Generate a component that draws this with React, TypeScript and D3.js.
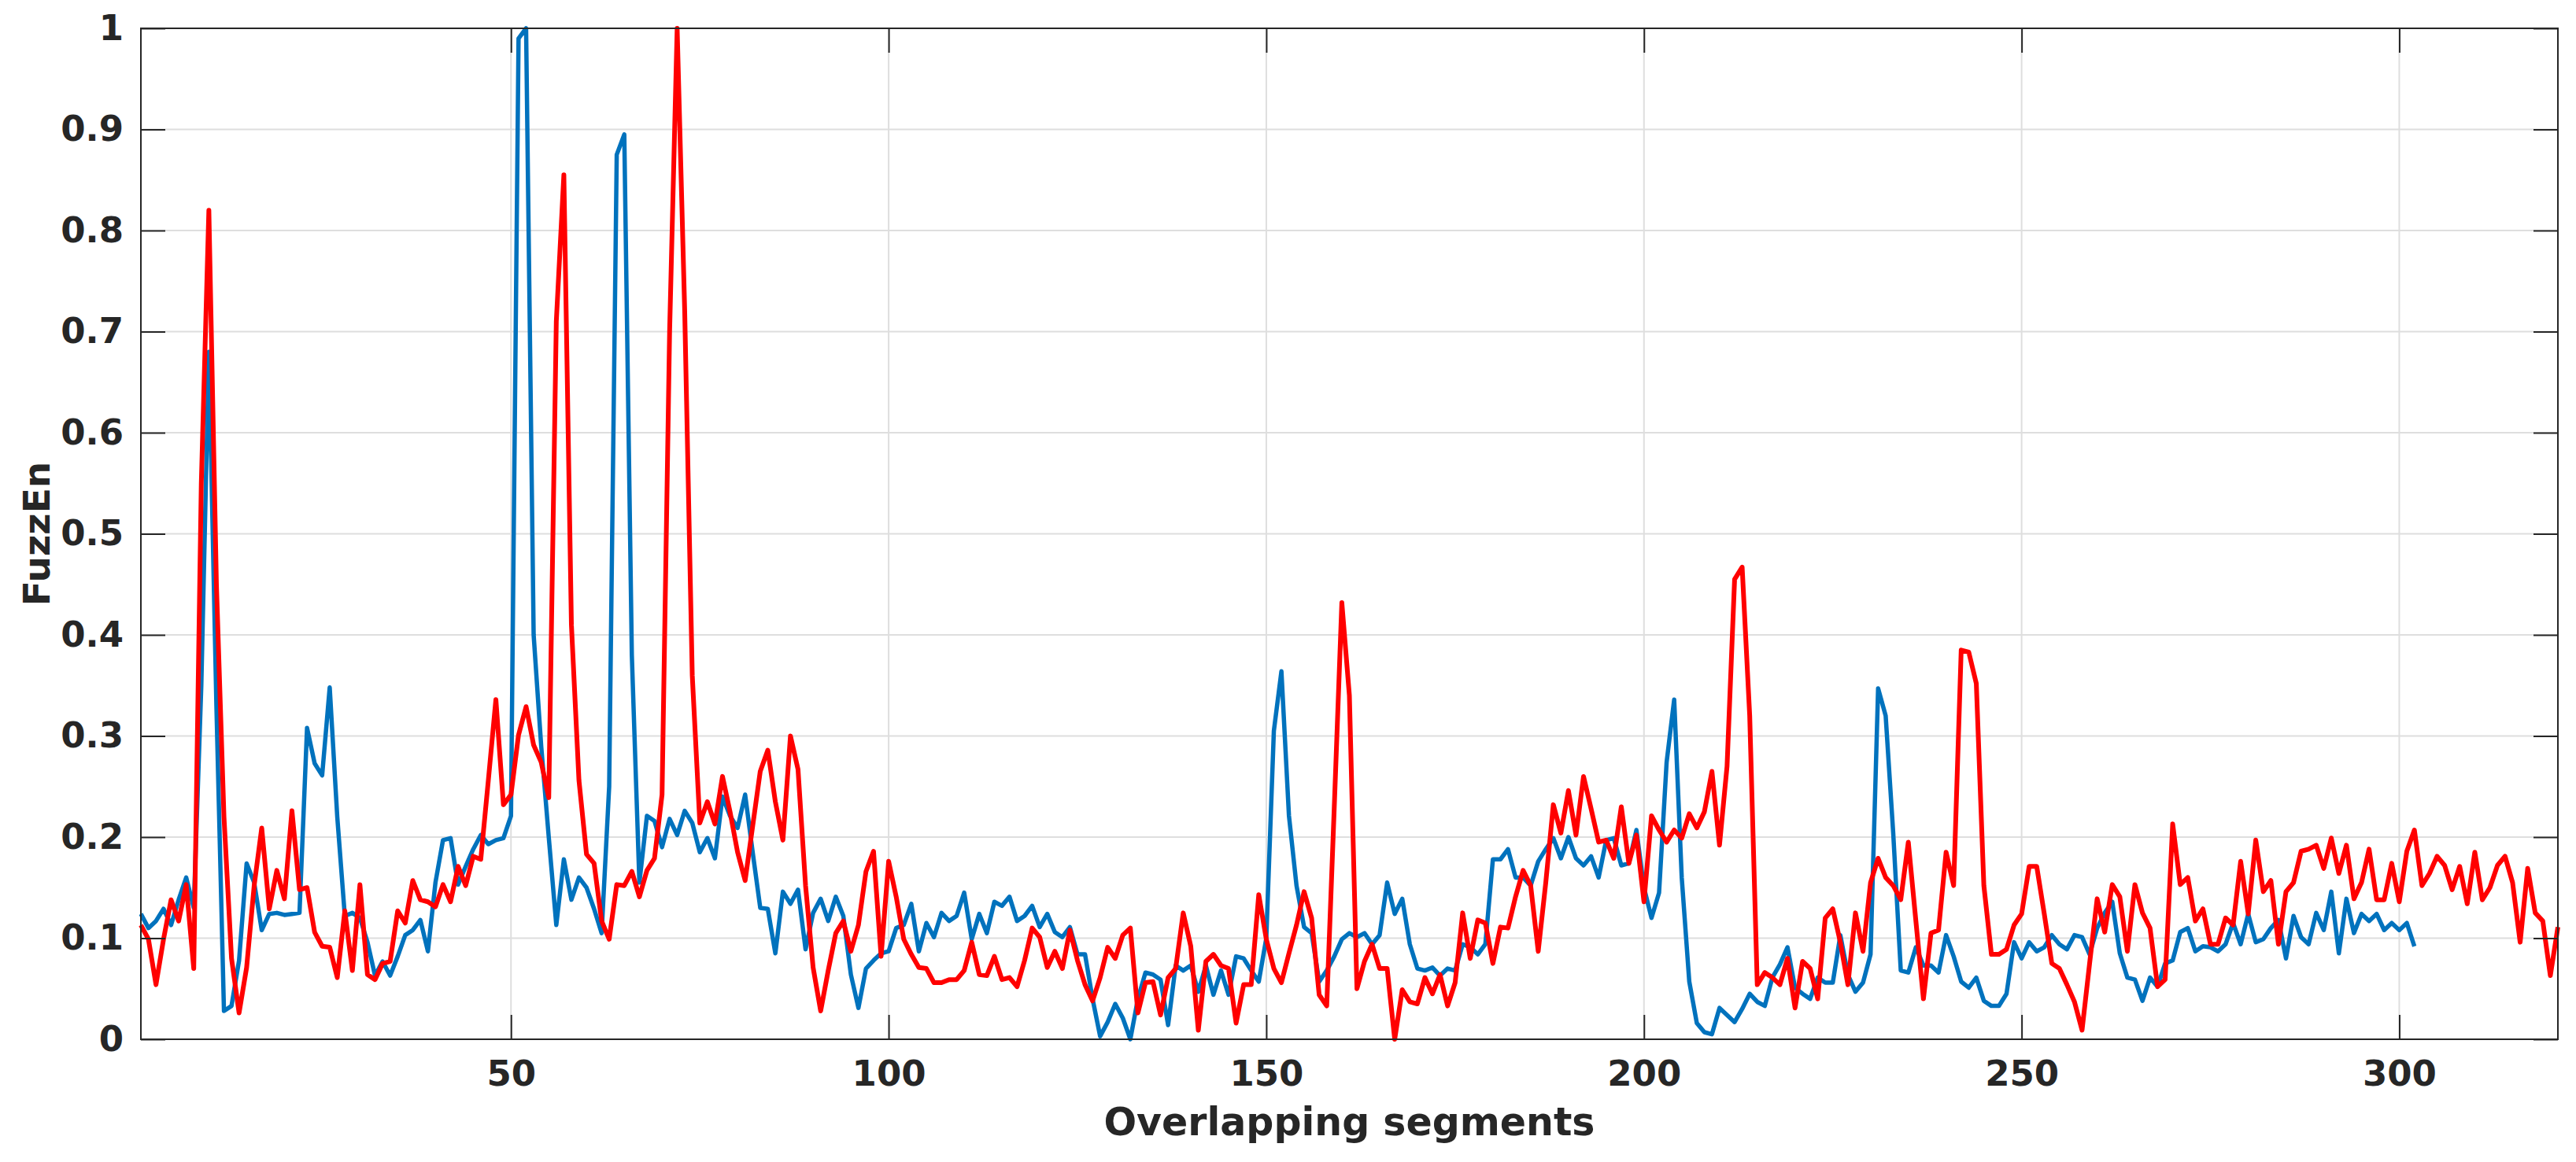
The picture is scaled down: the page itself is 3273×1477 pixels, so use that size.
import React, { useEffect, useMemo, useRef } from 'react';
import * as d3 from 'd3';

const WIDTH = 3273;
const HEIGHT = 1477;
const margin = { l: 179, r: 23, t: 36, b: 156 };

// FuzzEn per overlapping segment (blue series, 302 segments)
const blueSeries = [
  0.124, 0.11, 0.117, 0.129, 0.113, 0.138, 0.16, 0.13, 0.35, 0.68,
  0.33, 0.028, 0.033, 0.078, 0.174, 0.155, 0.108, 0.124, 0.125, 0.123,
  0.124, 0.125, 0.308, 0.273, 0.261, 0.348, 0.22, 0.122, 0.125, 0.12,
  0.096, 0.063, 0.077, 0.063, 0.082, 0.103, 0.108, 0.118, 0.087, 0.155,
  0.197, 0.199, 0.153, 0.171, 0.188, 0.202, 0.193, 0.197, 0.199, 0.221,
  0.99, 1.0, 0.4, 0.29, 0.2, 0.113, 0.178, 0.138, 0.16, 0.15,
  0.129, 0.105, 0.25, 0.875, 0.895, 0.38, 0.155, 0.221, 0.216, 0.19,
  0.218, 0.202, 0.226, 0.214, 0.185, 0.199, 0.179, 0.24, 0.221, 0.209,
  0.242, 0.185, 0.13, 0.129, 0.085, 0.146, 0.134, 0.148, 0.089, 0.125,
  0.139, 0.117, 0.141, 0.122, 0.064, 0.031, 0.07, 0.078, 0.085, 0.087,
  0.11, 0.113, 0.134, 0.087, 0.115, 0.101, 0.125, 0.117, 0.122, 0.145,
  0.099, 0.124, 0.105, 0.136, 0.132, 0.141, 0.117, 0.122, 0.132, 0.111,
  0.124, 0.106, 0.101, 0.111, 0.084, 0.084, 0.04, 0.003, 0.017, 0.035,
  0.021, 0.0, 0.04, 0.066, 0.064, 0.059, 0.014, 0.073, 0.068, 0.073,
  0.047, 0.073, 0.044, 0.068, 0.044, 0.082, 0.08, 0.068, 0.057, 0.1,
  0.305, 0.364, 0.221, 0.152, 0.111, 0.105, 0.057, 0.068, 0.082, 0.099,
  0.105, 0.101, 0.105, 0.094, 0.103, 0.155, 0.124, 0.139, 0.094, 0.07,
  0.068, 0.071, 0.063, 0.07, 0.068, 0.094, 0.091, 0.084, 0.094, 0.178,
  0.178, 0.188, 0.16, 0.16, 0.152, 0.176, 0.188, 0.199, 0.179, 0.2,
  0.179, 0.172, 0.181, 0.16, 0.197, 0.199, 0.172, 0.174, 0.207, 0.15,
  0.12, 0.145, 0.274, 0.336, 0.16, 0.057, 0.016, 0.007, 0.005, 0.031,
  0.024, 0.017, 0.03, 0.045, 0.037, 0.033, 0.061, 0.074, 0.091, 0.051,
  0.045, 0.04, 0.061, 0.056, 0.056, 0.103, 0.064, 0.047, 0.056, 0.084,
  0.347, 0.32, 0.204, 0.068, 0.066, 0.091, 0.073, 0.073, 0.066, 0.103,
  0.082, 0.057, 0.051, 0.061, 0.038, 0.033, 0.033, 0.045, 0.096, 0.08,
  0.096, 0.087, 0.091, 0.103, 0.094, 0.089, 0.103, 0.101, 0.084, 0.11,
  0.125, 0.136, 0.085, 0.061, 0.059, 0.038, 0.061, 0.052, 0.075, 0.078,
  0.106, 0.11, 0.087, 0.092, 0.091, 0.087, 0.094, 0.115, 0.094, 0.124,
  0.096, 0.099, 0.11, 0.118, 0.08, 0.122, 0.101, 0.094, 0.125, 0.108,
  0.146, 0.085, 0.139, 0.105, 0.124, 0.117, 0.124, 0.108, 0.115, 0.108,
  0.115, 0.092,
];

// FuzzEn per overlapping segment (red series, 321 segments)
const redSeries = [
  0.113, 0.099, 0.054, 0.099, 0.138, 0.117, 0.153, 0.07, 0.55, 0.82,
  0.45, 0.22, 0.08, 0.026, 0.071, 0.152, 0.209, 0.129, 0.167, 0.139,
  0.226, 0.148, 0.15, 0.106, 0.092, 0.091, 0.061, 0.127, 0.068, 0.153,
  0.064, 0.059, 0.075, 0.077, 0.127, 0.115, 0.157, 0.138, 0.136, 0.131,
  0.153, 0.136, 0.171, 0.152, 0.181, 0.178, 0.256, 0.336, 0.232, 0.242,
  0.301, 0.329, 0.291, 0.274, 0.239, 0.71, 0.855, 0.41, 0.256, 0.183,
  0.174, 0.117, 0.099, 0.153, 0.152, 0.166, 0.141, 0.167, 0.179, 0.242,
  0.7, 1.0, 0.72, 0.36, 0.214, 0.235, 0.213, 0.26, 0.225, 0.185,
  0.157, 0.211, 0.265, 0.286, 0.235, 0.197, 0.3, 0.267, 0.152, 0.071,
  0.028, 0.068, 0.105, 0.117, 0.087, 0.113, 0.166, 0.186, 0.082, 0.176,
  0.141, 0.099, 0.084, 0.071, 0.07, 0.056, 0.056, 0.059, 0.059, 0.068,
  0.096, 0.064, 0.063, 0.082, 0.059, 0.061, 0.052, 0.078, 0.11, 0.101,
  0.071, 0.087, 0.07, 0.108, 0.078, 0.054, 0.038, 0.061, 0.091, 0.08,
  0.103, 0.11, 0.026, 0.056, 0.057, 0.024, 0.061, 0.07, 0.125, 0.092,
  0.009, 0.077, 0.084, 0.073, 0.07, 0.016, 0.054, 0.054, 0.143, 0.099,
  0.07, 0.056, 0.085, 0.113, 0.146, 0.12, 0.044, 0.033, 0.23, 0.432,
  0.34, 0.05, 0.077, 0.094, 0.07, 0.07, 0.0, 0.049, 0.037, 0.035,
  0.061, 0.045, 0.064, 0.033, 0.056, 0.125, 0.08, 0.118, 0.115, 0.075,
  0.111, 0.11, 0.141, 0.167, 0.152, 0.087, 0.155, 0.232, 0.204, 0.246,
  0.202, 0.26, 0.228, 0.195, 0.197, 0.179, 0.23, 0.174, 0.202, 0.136,
  0.221, 0.207, 0.195, 0.207, 0.199, 0.223, 0.209, 0.225, 0.265, 0.192,
  0.27, 0.455, 0.467, 0.32, 0.054, 0.066, 0.061, 0.054, 0.08, 0.031,
  0.077, 0.07, 0.04, 0.12, 0.129, 0.096, 0.054, 0.125, 0.087, 0.155,
  0.179, 0.16, 0.152, 0.138, 0.195, 0.117, 0.04, 0.105, 0.108, 0.185,
  0.152, 0.385, 0.383, 0.352, 0.152, 0.084, 0.084, 0.089, 0.113, 0.124,
  0.171, 0.171, 0.124, 0.075, 0.07, 0.054, 0.037, 0.009, 0.075, 0.139,
  0.106, 0.153, 0.141, 0.087, 0.153, 0.125, 0.11, 0.052, 0.059, 0.213,
  0.153, 0.16, 0.117, 0.129, 0.094, 0.094, 0.12, 0.113, 0.176, 0.124,
  0.197, 0.146, 0.157, 0.094, 0.146, 0.155, 0.186, 0.188, 0.192, 0.169,
  0.199, 0.164, 0.192, 0.139, 0.155, 0.188, 0.138, 0.138, 0.174, 0.136,
  0.186, 0.207, 0.152, 0.164, 0.181, 0.172, 0.148, 0.171, 0.134, 0.185,
  0.138, 0.15, 0.172, 0.181, 0.155, 0.096, 0.169, 0.125, 0.117, 0.063,
  0.111,
];

const xDomain = [1, 321];
const xTicks = [50, 100, 150, 200, 250, 300];
const yTicks = [0, 0.1, 0.2, 0.3, 0.4, 0.5, 0.6, 0.7, 0.8, 0.9, 1];
const xLabel = 'Overlapping segments';
const yLabel = 'FuzzEn';

const FONT = '"DejaVu Sans", Verdana, sans-serif';
const INK = '#262626';
const GRID = '#dedede';
const TICK_LEN = 31;

const App = () => {
  const widthMap = WIDTH - margin.l - margin.r;
  const heightMap = HEIGHT - margin.t - margin.b;

  const $xaxis = useRef<SVGGElement>(null);
  const $yaxis = useRef<SVGGElement>(null);
  const $xtop = useRef<SVGGElement>(null);
  const $yright = useRef<SVGGElement>(null);

  const xScale = useMemo(
    () => d3.scaleLinear().domain(xDomain).range([0, widthMap]),
    [widthMap]
  );
  const yScale = useMemo(
    () => d3.scaleLinear().domain([0, 1]).range([heightMap, 0]),
    [heightMap]
  );

  const line = d3
    .line<number>()
    .x((_, i) => xScale(i + 1))
    .y((d) => yScale(d));

  useEffect(() => {
    const styleAxis = (g: any) => {
      g.select('.domain').remove();
      g.selectAll('.tick line').attr('stroke', INK).attr('stroke-width', 2);
      g.selectAll('.tick text')
        .attr('fill', INK)
        .attr('font-family', FONT)
        .attr('font-weight', 'bold')
        .attr('font-size', 45);
    };

    d3.select($xaxis.current)
      .call(
        d3
          .axisBottom(xScale)
          .tickValues(xTicks)
          .tickSizeInner(-TICK_LEN)
          .tickSizeOuter(0)
          .tickPadding(27)
          .tickFormat((d) => String(d)) as any
      )
      .call(styleAxis);

    d3.select($yaxis.current)
      .call(
        d3
          .axisLeft(yScale)
          .tickValues(yTicks)
          .tickSizeInner(-TICK_LEN)
          .tickSizeOuter(0)
          .tickPadding(22)
          .tickFormat((d) => String(+(+d).toFixed(1))) as any
      )
      .call(styleAxis);

    d3.select($xtop.current)
      .call(
        d3
          .axisTop(xScale)
          .tickValues(xTicks)
          .tickSizeInner(-TICK_LEN)
          .tickSizeOuter(0)
          .tickFormat(() => '') as any
      )
      .call(styleAxis);

    d3.select($yright.current)
      .call(
        d3
          .axisRight(yScale)
          .tickValues(yTicks)
          .tickSizeInner(-TICK_LEN)
          .tickSizeOuter(0)
          .tickFormat(() => '') as any
      )
      .call(styleAxis);
  }, [xScale, yScale]);

  return (
    <svg
      width={WIDTH}
      height={HEIGHT}
      viewBox={`0 0 ${WIDTH} ${HEIGHT}`}
      style={{ position: 'absolute', left: 0, top: 0, background: '#fff' }}
    >
      <rect x={0} y={0} width={WIDTH} height={HEIGHT} fill="#fff" />
      <g transform={`translate(${margin.l}, ${margin.t})`}>
        {/* grid */}
        <g>
          {xTicks.map((t) => (
            <line
              key={`gx-${t}`}
              x1={xScale(t)}
              x2={xScale(t)}
              y1={0}
              y2={heightMap}
              stroke={GRID}
              strokeWidth={2}
            />
          ))}
          {yTicks.slice(1, -1).map((t) => (
            <line
              key={`gy-${t}`}
              x1={0}
              x2={widthMap}
              y1={yScale(t)}
              y2={yScale(t)}
              stroke={GRID}
              strokeWidth={2}
            />
          ))}
        </g>

        <path
          d={line(blueSeries) || ''}
          fill="none"
          stroke="#0072BD"
          strokeWidth={5.5}
          strokeLinejoin="round"
        />
        <path
          d={line(redSeries) || ''}
          fill="none"
          stroke="#FF0000"
          strokeWidth={6}
          strokeLinejoin="round"
        />

        <g ref={$xaxis} transform={`translate(0, ${heightMap})`} />
        <g ref={$yaxis} />
        <g ref={$xtop} />
        <g ref={$yright} transform={`translate(${widthMap}, 0)`} />

        <rect
          x={0}
          y={0}
          width={widthMap}
          height={heightMap}
          fill="none"
          stroke={INK}
          strokeWidth={2}
        />

        <text
          x={widthMap / 2}
          y={heightMap + 122}
          textAnchor="middle"
          fontFamily={FONT}
          fontWeight="bold"
          fontSize={49}
          fill={INK}
        >
          {xLabel}
        </text>
        <text
          transform={`translate(${-116}, ${heightMap / 2}) rotate(-90)`}
          textAnchor="middle"
          fontFamily={FONT}
          fontWeight="bold"
          fontSize={47}
          fill={INK}
        >
          {yLabel}
        </text>
      </g>
    </svg>
  );
};

export default App;
